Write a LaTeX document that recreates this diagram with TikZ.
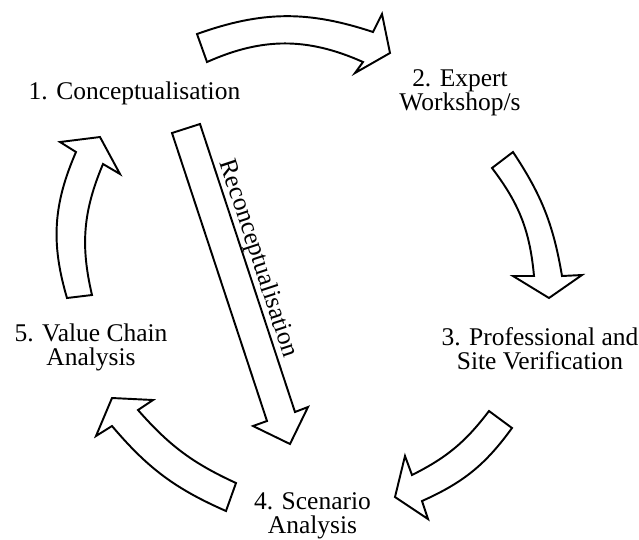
\documentclass[tikz,border=0pt]{standalone}
\usepackage{fontspec}
\setmainfont{Liberation Serif}
\tikzset{
  stage/.style={align=center,inner sep=0pt,font=\fontsize{14.5}{13.7}\selectfont},
  bigarrow/.style={draw,line width=1.1pt,fill=white,line join=miter,miter limit=10},
  sidelabel/.style={inner sep=0.5pt,font=\fontsize{14.5}{13.7}\selectfont}
}

\begin{document}
\begin{tikzpicture}[x=0.02cm,y=-0.02cm]
  \useasboundingbox (0,0) rectangle (639,539);
  %
  % -- Stage labels round the cycle
  \node[stage,anchor=base] (concept) at (134.5,99) {1. Conceptualisation};
  \node[stage] (workshop)   at (460,93)     {2. Expert\\Workshop/s};
  \node[stage] (verify)     at (540,349)    {3. Professional and\\Site Verification};
  \node[stage] (scenario)   at (312.5,515.5) {4. Scenario\\Analysis};
  \node[stage] (valuechain) at (91,347.5)   {5. Value Chain\\Analysis};

  % -- Curved block arrows, clockwise
  %    outer edge, head, then inner edge back to the tail
  \draw[bigarrow] (197,34) to[bend left=19] (373,32) -- (382,14) -- (390,53)
    -- (355,73) -- (363,62) to[bend right=24] (207,62) -- cycle;
  \draw[bigarrow] (513,152) to[bend left=12] (562,276) -- (582,275) -- (549,298)
    -- (513,276) -- (534,276) to[bend right=16] (492,168) -- cycle;
  \draw[bigarrow] (512,428) to[bend left=15] (422,501) -- (428,519) -- (395,497)
    -- (405,456) -- (412,475) to[bend right=13] (489,411) -- cycle;
  \draw[bigarrow] (226,511) to[bend left=13] (112,426) -- (96,436) -- (112,398)
    -- (153,400) -- (138,410) to[bend right=12] (236,483) -- cycle;
  \draw[bigarrow] (67,298) to[bend left=20] (76,152) -- (60,142) -- (100,137)
    -- (120,174) -- (103,164) to[bend right=18] (92,295) -- cycle;

  % -- Straight arrow back through the middle
  \draw[bigarrow] (172,133) -- (200,124) -- (295,412) -- (308,407) -- (290,444)
    -- (253,426) -- (267,421) -- cycle;
  \node[sidelabel,rotate=-71.75,anchor=south] (recon) at (245.7,262.7) {Reconceptualisation};
\end{tikzpicture}
\end{document}
